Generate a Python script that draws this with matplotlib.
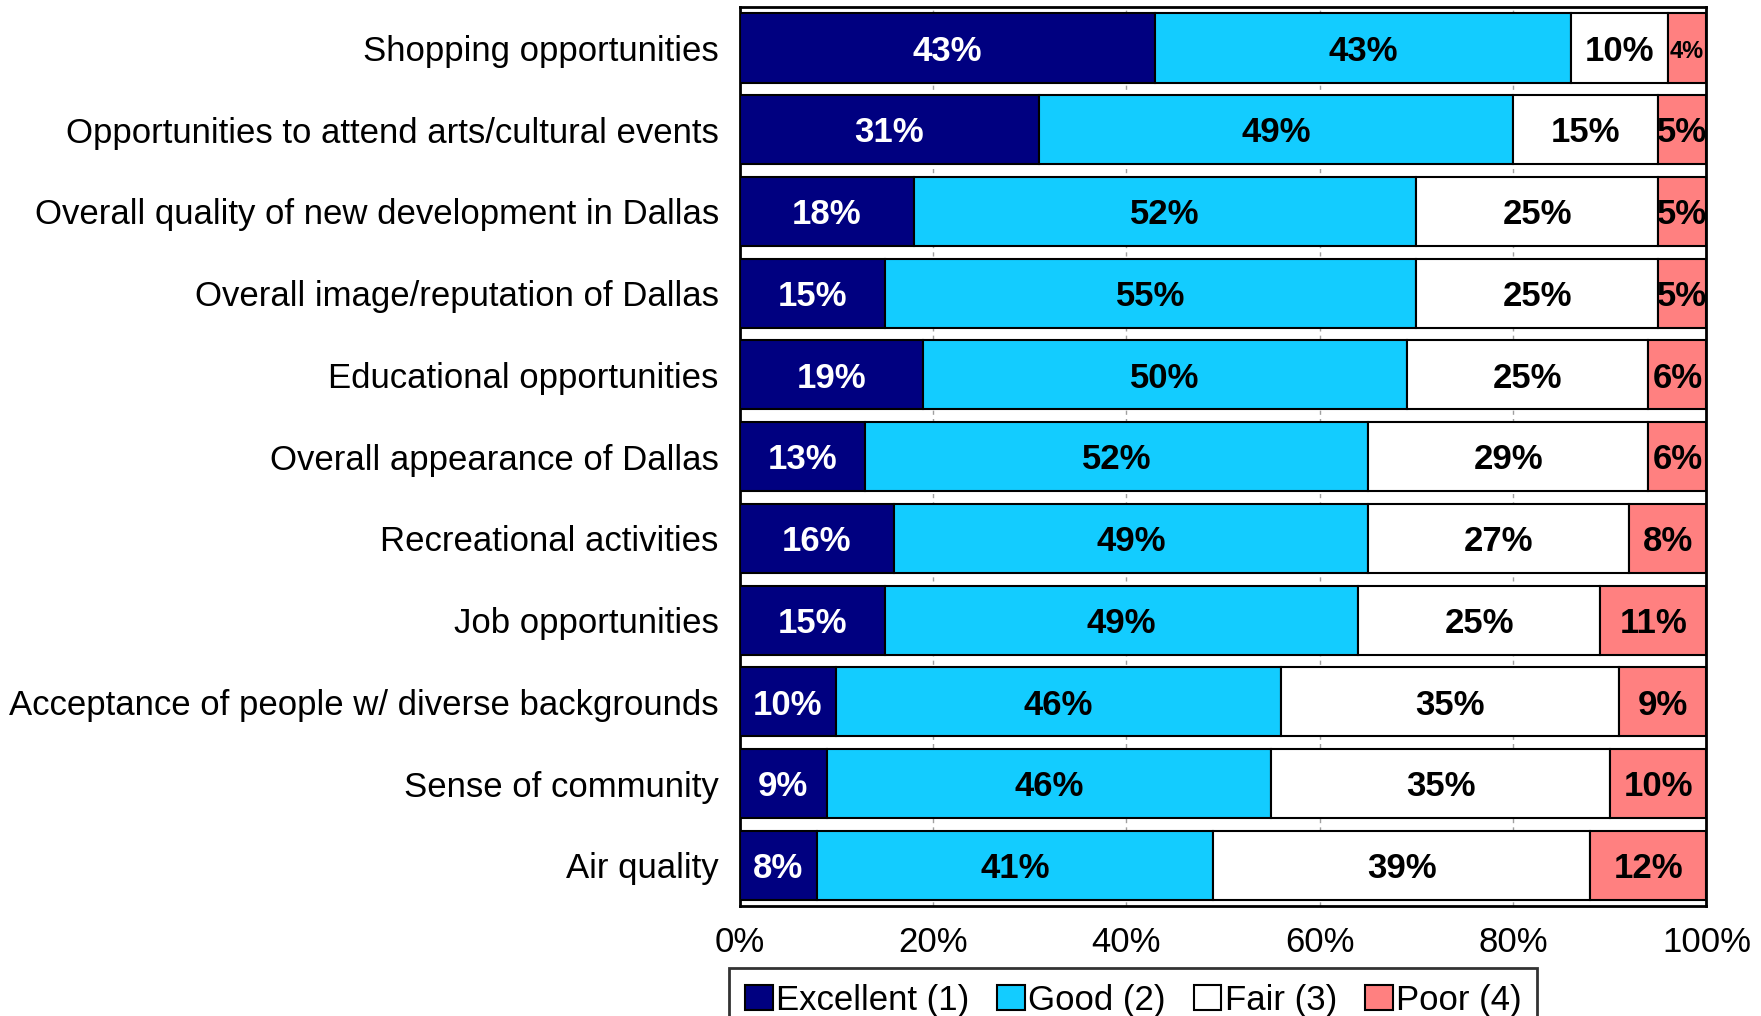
"""Stacked horizontal bar chart of quality-of-life ratings."""

import numpy as np
import matplotlib.pyplot as plt
from matplotlib.patches import Patch

plt.rcParams["font.family"] = ["Liberation Sans", "DejaVu Sans"]

# Survey items, top to bottom
categories = [
    "Shopping opportunities",
    "Opportunities to attend arts/cultural events",
    "Overall quality of new development in Dallas",
    "Overall image/reputation of Dallas",
    "Educational opportunities",
    "Overall appearance of Dallas",
    "Recreational activities",
    "Job opportunities",
    "Acceptance of people w/ diverse backgrounds",
    "Sense of community",
    "Air quality",
]

# Percent of respondents for each rating
excellent = [43, 31, 18, 15, 19, 13, 16, 15, 10, 9, 8]
good = [43, 49, 52, 55, 50, 52, 49, 49, 46, 46, 41]
fair = [10, 15, 25, 25, 25, 29, 27, 25, 35, 35, 39]
poor = [4, 5, 5, 5, 6, 6, 8, 11, 9, 10, 12]

series_names = ["Excellent (1)", "Good (2)", "Fair (3)", "Poor (4)"]
colors = ["#000080", "#13CCFF", "#FFFFFF", "#FF8080"]
label_colors = ["white", "black", "black", "black"]

x_ticks = [0, 20, 40, 60, 80, 100]

fig = plt.figure(figsize=(17.61, 10.16), dpi=100)
ax = fig.add_axes([0.420, 0.108, 0.549, 0.885])

y = np.arange(len(categories))
left = np.zeros(len(categories))
for values, color, tcolor in zip([excellent, good, fair, poor], colors, label_colors):
    values = np.array(values, dtype=float)
    ax.barh(y, values, left=left, height=0.845, color=color,
            edgecolor="black", linewidth=1.5, zorder=3)
    for yi, (l, v) in enumerate(zip(left, values)):
        size = 25 if v >= 5 else 17
        ax.text(l + v / 2, yi + 0.04, f"{int(v)}%", ha="center", va="center",
                color=tcolor, fontsize=size, fontweight="bold", zorder=4)
    left += values

ax.set_xlim(0, 100)
ax.set_ylim(len(categories) - 0.5, -0.5)
ax.set_yticks(y)
ax.set_yticklabels(categories, fontsize=25)
ax.set_xticks(x_ticks)
ax.set_xticklabels([f"{t}%" for t in x_ticks], fontsize=25)
ax.tick_params(axis="both", length=0)
ax.tick_params(axis="y", pad=15)
ax.tick_params(axis="x", pad=14)

# dashed gridlines only show in the gaps between bars
for t in x_ticks[1:-1]:
    ax.axvline(t, color="#A0A0A0", linestyle=(0, (3, 3)), linewidth=1, zorder=1)

for spine in ax.spines.values():
    spine.set_linewidth(2)
    spine.set_color("black")

handles = [Patch(facecolor=c, edgecolor="black", linewidth=1.5) for c in colors]
leg = fig.legend(handles, series_names, loc="upper center",
                 bbox_to_anchor=(0.6435, 0.047), ncol=4, fontsize=25,
                 frameon=True, fancybox=False, handlelength=0.8,
                 handleheight=0.75, handletextpad=0.1, columnspacing=0.8,
                 borderpad=0.45, borderaxespad=0)
leg.get_frame().set_edgecolor("black")
leg.get_frame().set_linewidth(2)

fig.savefig("out.png", dpi=100)
